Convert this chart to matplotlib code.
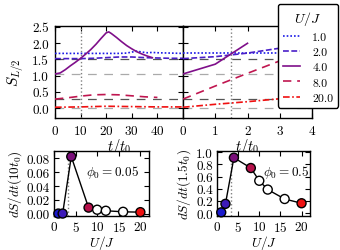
import matplotlib
matplotlib.use("Agg")
import matplotlib.pyplot as plt

plt.rcParams.update({
    "font.family": "serif",
    "font.serif": ["cmr10", "DejaVu Serif"],
    "mathtext.fontset": "cm",
    "axes.formatter.use_mathtext": True,
    "font.size": 9.5,
    "xtick.direction": "in",
    "ytick.direction": "in",
    "xtick.top": True,
    "ytick.right": True,
    "xtick.major.size": 3.5,
    "ytick.major.size": 3.5,
    "axes.linewidth": 1.0,
})

# ---------------- data ----------------
U_labels = ["1.0", "2.0", "4.0", "8.0", "20.0"]
colors = ["#1a1ae6", "#4a1fc8", "#7f0f8a", "#c01650", "#f01010"]

# top-left (long times)
tL_1 = [0, 5, 10, 15, 20, 25, 28, 30, 32, 34, 36, 38, 40, 45, 50]
sL_1 = [1.68, 1.68, 1.68, 1.68, 1.68, 1.68, 1.69, 1.72, 1.75, 1.72, 1.70, 1.71, 1.70, 1.69, 1.68]
tL_2 = [0, 10, 15, 20, 25, 30, 35, 40, 45, 50]
sL_2 = [1.52, 1.52, 1.53, 1.55, 1.57, 1.57, 1.55, 1.54, 1.53, 1.53]
tL_4 = [0, 2, 4, 6, 8, 10, 12, 14, 16, 18, 20, 21, 22, 24, 26, 28, 30, 32, 34, 36, 38]
sL_4 = [1.05, 1.08, 1.18, 1.30, 1.41, 1.53, 1.66, 1.80, 1.96, 2.14, 2.31, 2.34, 2.29, 2.17, 2.04, 1.92, 1.82, 1.73, 1.66, 1.60, 1.55]
tL_8 = [0, 5, 10, 15, 20, 25, 30, 35, 40]
sL_8 = [0.28, 0.32, 0.37, 0.41, 0.42, 0.41, 0.38, 0.35, 0.33]
tL_20 = [0, 10, 20, 30, 40, 50]
sL_20 = [0.03, 0.04, 0.06, 0.05, 0.04, 0.04]

# top-right (short times)
tR_1 = [0, 1, 2, 3, 4]
sR_1 = [1.68, 1.68, 1.68, 1.68, 1.68]
tR_2 = [0, 1, 2, 3, 4]
sR_2 = [1.52, 1.58, 1.69, 1.84, 1.98]
tR_4 = [0, 1, 2]
sR_4 = [1.05, 1.35, 1.99]
tR_8 = [0, 1, 2, 3, 4]
sR_8 = [0.28, 0.68, 1.07, 1.45, 1.80]
tR_20 = [0, 1, 2, 3, 4]
sR_20 = [0.03, 0.12, 0.20, 0.29, 0.37]

ref_dark = [1.52, 0.27]
ref_light = [1.05, 0.02]

# bottom panels
U_vals = [1, 2, 4, 8, 10, 12, 16, 20]
pt_colors = ["#1a1acc", "#3d1ab8", "#7a0f7a", "#b5104a", "white", "white", "white", "#ee1111"]
dS_005 = [0.0005, 0.0005, 0.082, 0.009, 0.006, 0.0045, 0.003, 0.0025]
dS_05 = [0.01, 0.15, 0.91, 0.74, 0.53, 0.385, 0.23, 0.16]

# ---------------- figure ----------------
fig = plt.figure(figsize=(3.4, 2.51), dpi=100)
W, H = 340, 251
def pos(x0, x1, y0, y1):
    return [x0 / W, 1 - y1 / H, (x1 - x0) / W, (y1 - y0) / H]

axL = fig.add_axes(pos(55, 183, 27, 119))
axR = fig.add_axes(pos(183, 312, 27, 119))
axB1 = fig.add_axes(pos(54, 149, 152, 217))
axB2 = fig.add_axes(pos(217, 310, 152, 217))

styles = [
    dict(ls=(0, (1, 1.2)), lw=1.2),
    dict(ls=(0, (3.5, 1.5)), lw=1.2),
    dict(ls="-", lw=1.2),
    dict(ls=(0, (5, 3.5)), lw=1.2),
    dict(ls=(0, (4, 1.5, 1, 1.5)), lw=1.2),
]

top_data_L = [(tL_1, sL_1), (tL_2, sL_2), (tL_4, sL_4), (tL_8, sL_8), (tL_20, sL_20)]
top_data_R = [(tR_1, sR_1), (tR_2, sR_2), (tR_4, sR_4), (tR_8, sR_8), (tR_20, sR_20)]

for ax, data in ((axL, top_data_L), (axR, top_data_R)):
    for y in ref_dark:
        ax.axhline(y, color="#555555", lw=0.9, ls=(0, (7, 6)), zorder=1)
    for y in ref_light:
        ax.axhline(y, color="#aaaaaa", lw=0.9, ls=(0, (7, 6)), zorder=1)
    for (t, s), c, st, lab in zip(data, colors, styles, U_labels):
        ax.plot(t, s, color=c, label=lab, zorder=3, **st)
    ax.set_ylim(-0.3, 2.52)
    ax.set_xlabel(r"$t/t_0$", labelpad=-1, fontsize=10.5)

axL.axvline(10, color="gray", ls=":", lw=1.0, zorder=2)
axR.axvline(1.5, color="gray", ls=":", lw=1.0, zorder=2)

axL.set_xlim(0, 50)
axL.set_xticks([0, 10, 20, 30, 40])
axL.set_yticks([0.0, 0.5, 1.0, 1.5, 2.0, 2.5])
axL.set_yticklabels(["0.0", "0.5", "1.0", "1.5", "2.0", "2.5"])
axL.set_ylabel(r"$S_{L/2}$", labelpad=4, fontsize=11)

axR.set_xlim(0, 4)
axR.set_xticks([0, 1, 2, 3, 4])
axR.set_yticks([0.0, 0.5, 1.0, 1.5, 2.0, 2.5])
axR.set_yticklabels([])

handles, labels = axL.get_legend_handles_labels()
leg = fig.legend(handles, labels, title=r"$U/J$", loc="upper right",
                 bbox_to_anchor=(338 / W, 1 - 5 / H), borderaxespad=0,
                 fancybox=True, framealpha=1, edgecolor="black",
                 handlelength=1.5, fontsize=8.5, title_fontsize=10,
                 labelspacing=0.42, borderpad=0.4, handletextpad=1.0)
leg.get_frame().set_linewidth(1.0)

# bottom-left
axB1.vlines(3.3, -0.003, 0.077, colors="gray", linestyles=":", lw=1.0, zorder=1)
axB1.plot(U_vals, dS_005, color="black", lw=1.0, zorder=2)
axB1.scatter(U_vals, dS_005, c=pt_colors, edgecolors="black", s=42, linewidths=1.0, zorder=3, clip_on=False)
axB1.set_xlim(0, 22)
axB1.set_ylim(-0.003, 0.09)
axB1.set_xticks([0, 5, 10, 15, 20])
axB1.set_yticks([0.0, 0.02, 0.04, 0.06, 0.08])
axB1.set_yticklabels(["0.00", "0.02", "0.04", "0.06", "0.08"])
axB1.set_xlabel(r"$U/J$", labelpad=-1, fontsize=9.5)
axB1.set_ylabel(r"$dS/dt(10t_0)$", labelpad=2, fontsize=9.5)
axB1.text(13.6, 0.061, r"$\phi_0=0.05$", ha="center", va="center", fontsize=9.5)

# bottom-right
axB2.vlines(3.3, -0.05, 0.85, colors="gray", linestyles=":", lw=1.0, zorder=1)
axB2.plot(U_vals, dS_05, color="black", lw=1.0, zorder=2)
axB2.scatter(U_vals, dS_05, c=pt_colors, edgecolors="black", s=42, linewidths=1.0, zorder=3, clip_on=False)
axB2.set_xlim(0, 22)
axB2.set_ylim(-0.05, 1.02)
axB2.set_xticks([0, 5, 10, 15, 20])
axB2.set_yticks([0.0, 0.2, 0.4, 0.6, 0.8, 1.0])
axB2.set_yticklabels(["0.0", "0.2", "0.4", "0.6", "0.8", "1.0"])
axB2.set_xlabel(r"$U/J$", labelpad=-1, fontsize=9.5)
axB2.set_ylabel(r"$dS/dt(1.5t_0)$", labelpad=2, fontsize=9.5)
axB2.text(16.4, 0.675, r"$\phi_0=0.5$", ha="center", va="center", fontsize=9.5)

for ax in (axL, axR):
    ax.tick_params(labelsize=9.5, pad=4.5)
for ax in (axB1, axB2):
    ax.tick_params(labelsize=9.5, pad=3)

fig.savefig("out.png", dpi=100)
